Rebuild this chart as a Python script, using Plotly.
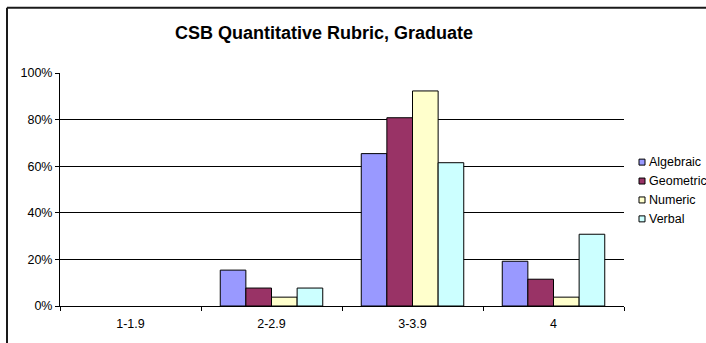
import plotly.graph_objects as go

# Score bands and share of graduate students per rubric dimension
categories = ["1-1.9", "2-2.9", "3-3.9", "4"]
algebraic = [0.0, 0.154, 0.654, 0.192]
geometric = [0.0, 0.077, 0.808, 0.115]
numeric = [0.0, 0.038, 0.923, 0.038]
verbal = [0.0, 0.077, 0.615, 0.308]

series_names = ["Algebraic", "Geometric", "Numeric", "Verbal"]
series_values = [algebraic, geometric, numeric, verbal]
series_colors = ["#9999FF", "#993366", "#FFFFCC", "#CCFFFF"]

y_tick_values = [0, 0.2, 0.4, 0.6, 0.8, 1.0]
y_tick_labels = ["0%", "20%", "40%", "60%", "80%", "100%"]

FONT = "Liberation Sans, Arial, sans-serif"

W, H = 706, 343
L, R, T, B = 60, 82, 72.5, 36.5
pw = W - L - R
ph = H - T - B


def px_x(x):
    """Pixel column -> paper x."""
    return (x - L) / pw


def px_y(y):
    """Pixel row -> paper y."""
    return (H - B - y) / ph


fig = go.Figure()
for name, vals, color in zip(series_names, series_values, series_colors):
    fig.add_trace(go.Bar(
        x=categories,
        y=vals,
        name=name,
        marker=dict(
            color=color,
            line=dict(color="#000000", width=[1 if v > 0 else 0 for v in vals]),
        ),
        showlegend=False,
    ))

fig.update_layout(
    width=W,
    height=H,
    margin=dict(l=L, r=R, t=T, b=B, pad=0, autoexpand=False),
    paper_bgcolor="white",
    plot_bgcolor="white",
    barmode="group",
    bargap=0.273,
    bargroupgap=0,
    font=dict(family=FONT, size=12.5, color="#000000"),
    title=dict(
        text="<b>CSB Quantitative Rubric, Graduate</b>",
        font=dict(family=FONT, size=18, color="#000000"),
        x=px_x(324),
        xref="paper",
        xanchor="center",
        y=1 - 33 / H,
        yref="container",
        yanchor="middle",
    ),
    xaxis=dict(
        type="category",
        tickson="boundaries",
        ticks="outside",
        ticklen=4,
        tickcolor="#000000",
        showline=True,
        linecolor="#000000",
        linewidth=1,
        showgrid=False,
        tickfont=dict(size=12.5),
        ticklabelstandoff=6,
        fixedrange=True,
    ),
    yaxis=dict(
        range=[0, 1.0],
        tickvals=y_tick_values,
        ticktext=y_tick_labels,
        ticks="outside",
        ticklen=4,
        tickcolor="#000000",
        showline=True,
        linecolor="#000000",
        linewidth=1,
        showgrid=True,
        gridcolor="#000000",
        gridwidth=1,
        zeroline=False,
        tickfont=dict(size=12.5),
        fixedrange=True,
    ),
    showlegend=False,
)

# Legend: colour swatch plus series name, stacked on the right
legend_rows = [162, 181, 200, 219]
for name, color, yc in zip(series_names, series_colors, legend_rows):
    fig.add_shape(
        type="rect",
        xref="paper", yref="paper",
        x0=px_x(639), x1=px_x(645),
        y0=px_y(yc + 3), y1=px_y(yc - 3),
        line=dict(color="#000000", width=1),
        fillcolor=color,
    )
    fig.add_annotation(
        xref="paper", yref="paper",
        x=px_x(647), y=px_y(yc),
        xanchor="left", yanchor="middle",
        text=name,
        showarrow=False,
        font=dict(family=FONT, size=12.5, color="#000000"),
    )

# Chart-area frame: only its left and top edges fall inside the page
frame = dict(color="#1a1a1a", width=2)
fig.add_shape(type="line", xref="paper", yref="paper",
              x0=px_x(7), x1=px_x(7), y0=px_y(H + 5), y1=px_y(7),
              line=frame, layer="below")
fig.add_shape(type="line", xref="paper", yref="paper",
              x0=px_x(7), x1=px_x(W + 5), y0=px_y(7), y1=px_y(7),
              line=frame, layer="below")

fig.write_html("out.html")
